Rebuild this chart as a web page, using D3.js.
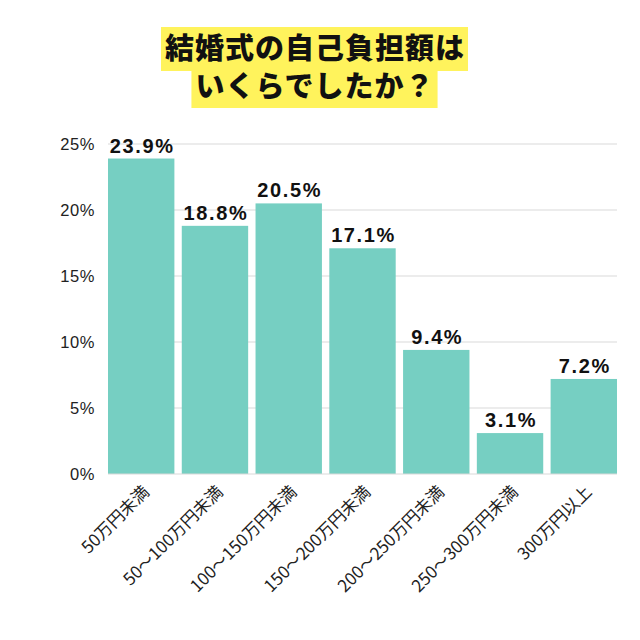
<!DOCTYPE html>
<html><head><meta charset="utf-8">
<script src="https://cdn.jsdelivr.net/npm/d3@7"></script>
<style>
html,body{margin:0;padding:0;background:#fff;}
</style>
</head><body>
<svg id="chart" width="640" height="640"></svg>
<script>
const categories = ["50万円未満","50〜100万円未満","100〜150万円未満","150〜200万円未満","200〜250万円未満","250〜300万円未満","300万円以上"];
const values = [23.9, 18.8, 20.5, 17.1, 9.4, 3.1, 7.2];
const yTicks = [0, 5, 10, 15, 20, 25];
const titleLines = ["結婚式の自己負担額は", "いくらでしたか？"];

const svg = d3.select("#chart");

const x = d3.scaleBand().domain(categories).range([108, 617]).paddingInner(0.1).paddingOuter(0.0);
const y = d3.scaleLinear().domain([0, 25]).range([474, 144]);

// Title with yellow highlight
const title = svg.append("g");
const tl = [{t: titleLines[0], y: 59, top: 27, bot: 71}, {t: titleLines[1], y: 97, top: 71, bot: 108}];
tl.forEach(d => {
  const rect = title.append("rect").attr("fill", "#FFF35C");
  const txt = title.append("text")
    .attr("x", 315).attr("y", d.y)
    .attr("text-anchor", "middle")
    .attr("font-family", "'Noto Sans CJK JP', sans-serif")
    .attr("font-weight", 900)
    .attr("font-size", 29)
    .attr("letter-spacing", 1)
    .attr("fill", "#111")
    .text(d.t);
  const bb = txt.node().getBBox();
  rect.attr("x", bb.x - 4).attr("width", bb.width + 7)
      .attr("y", d.top).attr("height", d.bot - d.top);
});

// Gridlines
svg.append("g").selectAll("line").data(yTicks.filter(v => v > 0)).join("line")
  .attr("x1", 108).attr("x2", 617)
  .attr("y1", d => y(d)).attr("y2", d => y(d))
  .attr("stroke", "#d9d9d9").attr("stroke-width", 1);

// Y axis
const yAxis = d3.axisLeft(y).tickValues(yTicks).tickFormat(d => d + "%").tickSize(0).tickPadding(0);
const ya = svg.append("g").attr("transform", "translate(95,0)").call(yAxis);
ya.select(".domain").remove();
ya.selectAll("text")
  .attr("font-family", "'Liberation Sans', Arial, sans-serif")
  .attr("font-size", 16.5)
  .attr("letter-spacing", 0.6)
  .attr("fill", "#222")
  .attr("dy", "0.35em");

// Bars
svg.append("g").selectAll("rect").data(values).join("rect")
  .attr("x", (d, i) => x(categories[i]))
  .attr("width", x.bandwidth())
  .attr("y", d => y(d))
  .attr("height", d => y(0) - y(d))
  .attr("fill", "#76CFC2");

// baseline
svg.append("line").attr("x1", 108).attr("x2", 617).attr("y1", y(0)).attr("y2", y(0))
  .attr("stroke", "#d9d9d9").attr("stroke-width", 1);

// Value labels
svg.append("g").selectAll("text").data(values).join("text")
  .attr("x", (d, i) => x(categories[i]) + x.bandwidth() / 2 + 1)
  .attr("y", d => y(d) - 6)
  .attr("text-anchor", "middle")
  .attr("font-family", "'Liberation Sans', Arial, sans-serif")
  .attr("font-weight", 700)
  .attr("font-size", 20)
  .attr("letter-spacing", 1.6)
  .attr("fill", "#111")
  .text(d => d.toFixed(1) + "%");

// X axis labels
const xAxis = d3.axisBottom(x).tickSize(0).tickPadding(0);
const xa = svg.append("g").attr("transform", `translate(0,${y(0)})`).call(xAxis);
xa.select(".domain").remove();
xa.selectAll("text")
  .attr("font-family", "'Noto Sans CJK JP', sans-serif")
  .attr("font-size", 17)
  .attr("fill", "#222")
  .attr("text-anchor", "end")
  .attr("dy", 0)
  .attr("y", 0)
  .attr("transform", "translate(9,19) rotate(-45)");
</script>
</body></html>
